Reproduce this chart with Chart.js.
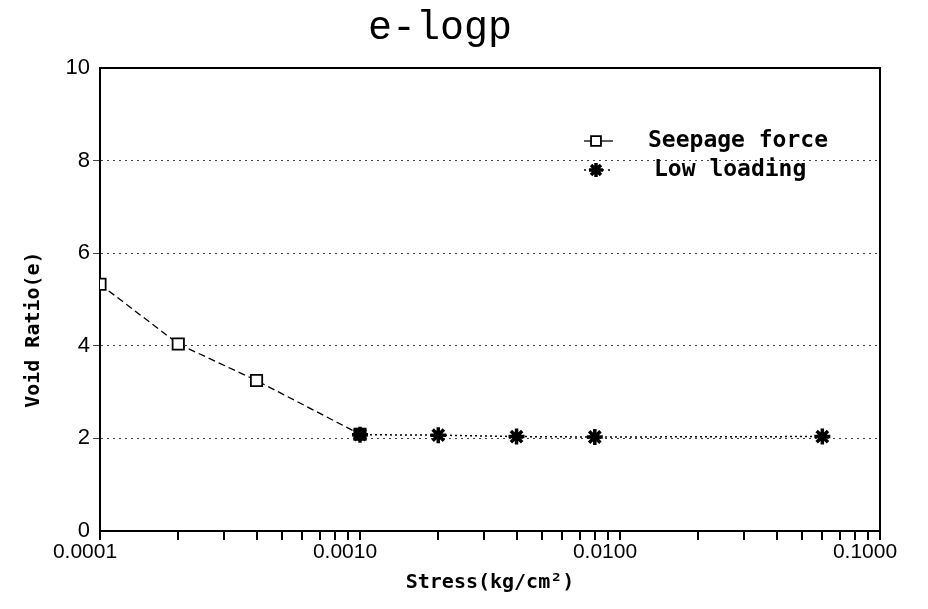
<!DOCTYPE html>
<html>
<head>
<meta charset="utf-8">
<title>e-logp</title>
<script src="https://cdn.jsdelivr.net/npm/chart.js@4.4.1/dist/chart.umd.min.js"></script>
<style>
  html, body { margin: 0; padding: 0; background: #fff; }
  #wrap { width: 928px; height: 609px; }
</style>
</head>
<body>
<div id="wrap"><canvas id="chart" width="928" height="609"></canvas></div>
<script>
// stress values (kg/cm2) and void ratios
const seepageStress = [0.0001, 0.0002, 0.0004, 0.001];
const seepageVoid = [5.33, 4.04, 3.25, 2.09];
const lowStress = [0.001, 0.002, 0.004, 0.008, 0.06];
const lowVoid = [2.08, 2.07, 2.04, 2.03, 2.04];

const xDecades = [0.0001, 0.001, 0.01, 0.1];
const yTicks = [0, 2, 4, 6, 8, 10];

const toPoints = (xs, ys) => xs.map((x, i) => ({ x: x, y: ys[i] }));

// log axis marks: every 1..9 step inside each decade, labels only on decades
function logTicks() {
    const out = [];
    xDecades.forEach((d, i) => {
        if (i === xDecades.length - 1) {
            out.push({ value: d, major: true });
            return;
        }
        for (let k = 1; k < 10; k++) out.push({ value: d * k, major: k === 1 });
    });
    return out;
}

const isDecade = v => xDecades.some(d => Math.abs(v / d - 1) < 1e-6);

// top and right frame lines + the legend inside the plot
const framePlugin = {
    id: 'frame',
    afterDraw(chart) {
        const { ctx, chartArea: a } = chart;
        ctx.save();
        ctx.strokeStyle = '#000';
        ctx.lineWidth = 2;
        ctx.beginPath();
        ctx.moveTo(a.left, a.top);
        ctx.lineTo(a.right, a.top);
        ctx.lineTo(a.right, a.bottom);
        ctx.stroke();

        const rows = [
            { y: 141, textX: 648 },
            { y: 170, textX: 654 }
        ];
        ctx.font = 'bold 23px "DejaVu Sans Mono"';
        ctx.textBaseline = 'middle';
        chart.data.datasets.forEach((ds, i) => {
            const r = rows[i];
            ctx.save();
            ctx.strokeStyle = '#000';
            ctx.fillStyle = i === 0 ? '#fff' : '#000';
            ctx.lineWidth = ds.borderWidth;
            ctx.setLineDash(i === 0 ? [] : [2, 4]);
            ctx.beginPath();
            ctx.moveTo(584, r.y);
            ctx.lineTo(613, r.y);
            ctx.stroke();
            ctx.setLineDash([]);
            ctx.lineWidth = ds.pointBorderWidth;
            Chart.helpers.drawPoint(ctx, {
                pointStyle: ds.pointStyle,
                radius: ds.pointRadius - 1,
                borderWidth: ds.pointBorderWidth,
                rotation: 0
            }, 596, r.y);
            ctx.restore();
            ctx.fillStyle = '#000';
            ctx.fillText(ds.label, r.textX, r.y);
        });
        ctx.restore();
    }
};

new Chart(document.getElementById('chart'), {
    type: 'scatter',
    data: {
        datasets: [{
            label: 'Seepage force',
            data: toPoints(seepageStress, seepageVoid),
            showLine: true,
            borderColor: '#000',
            borderWidth: 1.3,
            borderDash: [7, 4],
            pointStyle: 'rect',
            pointRadius: 8,
            pointBorderWidth: 1.8,
            pointBorderColor: '#000',
            pointBackgroundColor: seepageStress.map((s, i) => i === seepageStress.length - 1 ? '#000' : '#fff')
        }, {
            label: 'Low loading',
            data: toPoints(lowStress, lowVoid),
            showLine: true,
            borderColor: '#000',
            borderWidth: 1.5,
            borderDash: [2, 3],
            pointStyle: 'star',
            pointRadius: 8,
            pointBorderWidth: 3.5,
            pointBorderColor: '#000',
            pointBackgroundColor: '#000'
        }]
    },
    options: {
        responsive: false,
        animation: false,
        events: [],
        layout: { padding: { top: 0, right: 48, bottom: 0, left: 0 } },
        plugins: {
            legend: { display: false },
            tooltip: { enabled: false },
            title: {
                display: true,
                text: 'e-logp',
                color: '#000',
                font: { family: '"Liberation Mono"', size: 40, weight: 'normal' },
                padding: { top: 4, bottom: 16 }
            }
        },
        scales: {
            x: {
                type: 'logarithmic',
                min: xDecades[0],
                max: xDecades[xDecades.length - 1],
                afterBuildTicks: scale => { scale.ticks = logTicks(); },
                afterFit: scale => { scale.height = 78; },
                grid: {
                    drawOnChartArea: false,
                    drawTicks: true,
                    tickLength: 9,
                    color: '#000',
                    lineWidth: 2
                },
                border: { display: true, color: '#000', width: 2 },
                ticks: {
                    autoSkip: false,
                    maxRotation: 0,
                    minRotation: 0,
                    padding: 0,
                    labelOffset: -15,
                    color: '#000',
                    font: { family: '"Liberation Sans"', size: 21 },
                    callback: v => isDecade(v) ? v.toFixed(4) : ''
                },
                title: {
                    display: true,
                    text: 'Stress(kg/cm²)',
                    color: '#000',
                    font: { family: '"DejaVu Sans Mono"', size: 20, weight: 'bold' },
                    padding: { top: 0, bottom: 14 }
                }
            },
            y: {
                min: yTicks[0],
                max: yTicks[yTicks.length - 1],
                afterBuildTicks: scale => { scale.ticks = yTicks.map(v => ({ value: v })); },
                afterFit: scale => { scale.width = 100; },
                grid: {
                    color: ctx => (ctx.tick && (ctx.tick.value === 0 || ctx.tick.value === 10)) ? 'rgba(0,0,0,0)' : '#444',
                    lineWidth: 1,
                    tickLength: 7
                },
                border: { display: true, color: '#000', width: 2, dash: [2, 4] },
                ticks: {
                    padding: 3,
                    color: '#000',
                    font: { family: '"Liberation Sans"', size: 22 }
                },
                title: {
                    display: true,
                    text: 'Void Ratio(e)     ',
                    color: '#000',
                    font: { family: '"DejaVu Sans Mono"', size: 20, weight: 'bold' },
                    padding: { top: 22, bottom: 0 }
                }
            }
        }
    },
    plugins: [framePlugin]
});
</script>
</body>
</html>
